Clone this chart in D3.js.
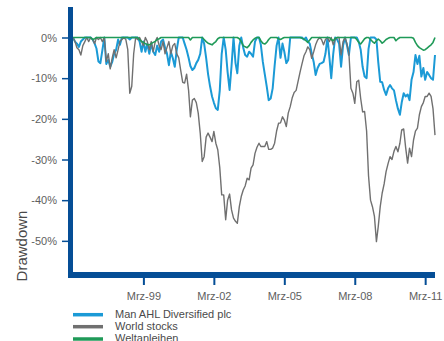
<!DOCTYPE html>
<html lang="de">
<head>
    <meta charset="UTF-8">
    <title>Drawdown</title>
    <script src="https://cdn.jsdelivr.net/npm/d3@7"></script>
    <style>
        body, html {
            margin: 0;
            padding: 0;
            background: #fff;
            overflow: hidden;
        }
        svg {
            display: block;
            font-family: "Liberation Sans", Arial, sans-serif;
        }
    </style>
</head>
<body>
    <svg id="mainsvg"></svg>
    <script>
        // monatliche Werte, Mrz 1996 bis Aug 2011 (Drawdown in %)
        const startMonth = new Date(1996, 2, 1);
        const endMonth = new Date(2011, 7, 1);

        const manAHL = [
            0, -1, -1.5, -2.3, -1, -0.5, 0, 0, 0, 0,
            -0.5, -1.5, -2.7, -5.9, -6.3, -3.1, 0, -6.5, -5.5, -7.2,
            -6, -4, -3, -0.5, -1.8, 0, 0, 0, 0, -0.5,
            0, 0, 0, 0, -1, -3.5, -1, -3.5, -1.5, -4,
            -1.5, -3.5, -4.3, -2, -3.5, -1, -0.5, -2.5, -3.9, -6.8,
            -3.5, -5.1, -7.2, -3, 0, 0, 0, -1.5, -3, -5,
            -7, -8, -7.5, -6.3, -5.5, -4, 0, -1.5, -5, -9,
            -12, -14.5, -16, -17.4, -17.8, -13, -4, 0, -3, -8.5,
            -12.9, -7, 0, -6.3, -8.8, -2, 0, -2.5, -4.3, -4.7,
            -3.5, -4, -4.7, -1, 0, 0, -1.8, -6, -9, -12.1,
            -15.4, -15, -12.5, -7, -2, 0, -5, -1.5, -3.5, -6.3,
            -5.5, 0, 0, 0, 0, 0, 0, 0, -0.5, 0,
            -1, -1.5, -3.9, -6, -9.2, -7.5, -6.5, -6.3, -6, -4,
            0, -5, -10, -4, 0, -0.5, -1.5, -7.2, -2, 0,
            -2, -4.3, 0, 0, 0, 0, -1, -3, -7.2, -9.6,
            -10, -2.8, 0, 0, 0, -0.5, -6, -10.9, -11, -12.9,
            -14.1, -12.5, -11.7, -12.5, -13, -15.4, -17.5, -19, -16, -13.7,
            -14.5, -14, -15.4, -10.4, -8.5, -4.3, -6.5, -4.5, -9.6, -7.5,
            -10.4, -8.5, -9.2, -10, -10.4, -4.3
        ];

        const worldStocks = [
            0, -1, -2.5, -3, -4.3, -2, -1, 0, -1, 0,
            -0.5, -1.5, 0, -0.5, 0, -1, 0, -5.9, -4, -7.7,
            -5, -3, -5, -3, -1, -0.5, 0, -0.5, -3, -13.7,
            -12, -4, 0, -0.5, 0, -1, -2, 0, -1, -3,
            -1, -3.5, -1, 0, -2, -3, -1, -4, -2.5, -1,
            -4, -2, -1.5, -4, -5, -8, -11, -11.2, -9, -13,
            -19.5, -15.4, -15, -16, -18.6, -23.5, -30.5, -29.3, -24.5, -23.5,
            -24.5, -25.6, -23.1, -26, -27.6, -32, -38.7, -38.7, -44.8, -40,
            -38.5, -42.4, -44.4, -45.2, -45.7, -41.6, -39.1, -37.5, -36.5, -34.6,
            -35, -32.1, -31.3, -28.5, -27, -26, -26.8, -26.8, -26.8, -25.6,
            -27.5, -27.5, -27.2, -26, -23, -21.1, -21, -19.5, -20.3, -21.9,
            -18.6, -17, -14.9, -13.5, -13, -10.8, -8.5, -6.5, -4.5, -3.5,
            -2.3, -3, -5.1, -3.5, -1.8, -0.6, 0, -0.5, -1.8, -0.5,
            0, -1, 0, -1.8, -0.5, 0, 0, -4.3, -1, 0,
            -1.5, -3.9, -12.5, -13.7, -16.2, -10.9, -10.5, -15, -18.3, -18.2,
            -23, -34, -40, -41.6, -44, -50.2, -46.5, -41.6, -38.3, -36,
            -33, -31, -29.3, -30, -28, -26.8, -28.1, -26, -22.7, -22.5,
            -27, -30.9, -27.2, -29.3, -25.2, -23, -22.3, -19, -17, -16,
            -14.5, -14.5, -13.7, -14.5, -17.5, -24
        ];

        const weltanleihen = [
            0, 0, 0, 0, 0, 0, 0, 0, 0, 0,
            -0.5, -0.3, 0, 0, 0, 0, 0, 0, 0, 0,
            0, 0, 0, 0, 0, 0, 0, 0, 0, 0,
            0, 0, 0, 0, -0.5, -1, -1.2, -1.5, -1.8, -1.8,
            -1.5, -1.2, -1, -0.5, -0.3, 0, 0, 0, 0, 0,
            0, 0, 0, 0, 0, 0, 0, 0, 0, 0,
            -0.6, 0, 0, 0, 0, 0, 0, -0.5, -1, -1.4,
            -1.6, -1.8, -1.4, -1, -0.3, 0, 0, 0, 0, 0,
            0, 0, 0, 0, 0, -0.3, -1, -2, -2.3, -2.5,
            -2, -1.2, -0.6, -0.2, 0, 0, -0.8, -1.4, -1.6, -1.2,
            -0.5, 0, 0, 0, 0, -0.3, -0.5, -0.2, 0, 0,
            0, 0, 0, 0, 0, 0, 0, -0.2, -0.4, -0.8,
            -1.2, -0.6, 0, 0, 0, 0, 0, 0, 0, 0,
            0, 0, -0.5, -0.8, -0.2, 0, 0, 0, 0, 0,
            0, 0, 0, 0, 0, -0.5, -1.2, -1.6, -1, -0.3,
            0, 0, -0.5, -1, -1.4, -0.8, -0.4, -0.8, -1.4, -1,
            -0.5, -0.2, 0, 0, 0, -0.8, -0.3, 0, 0, 0,
            0, 0, 0, 0, -0.2, -1.2, -2, -2.5, -2.8, -3.1,
            -3, -2.6, -2.2, -1.8, -1.2, 0
        ];

        const seriesNames = ["Man AHL Diversified plc", "World stocks", "Weltanleihen"];
        const seriesColors = ["#1b9ad6", "#707070", "#1f9a58"];

        const tickDates = [new Date(1999, 2, 1), new Date(2002, 2, 1), new Date(2005, 2, 1),
                           new Date(2008, 2, 1), new Date(2011, 2, 1)];
        const tickLabels = ["Mrz-99", "Mrz-02", "Mrz-05", "Mrz-08", "Mrz-11"];
        const yTicks = [0, -10, -20, -30, -40, -50];

        const width = 444, height = 341;
        const axisBlue = "#054e96";
        const textGrey = "#5e5e5e";

        const svg = d3.select("#mainsvg")
            .attr("width", width)
            .attr("height", height);

        const months = d3.timeMonth.range(startMonth, d3.timeMonth.offset(endMonth, 1));

        const x = d3.scaleTime()
            .domain([startMonth, endMonth])
            .range([73, 435]);

        const y = d3.scaleLinear()
            .domain([-58.4, 7.5])
            .range([275, 7]);

        // Linien
        const line = d3.line()
            .x((d, i) => x(months[i]))
            .y(d => y(d));

        const lineWidths = [2, 1.4, 1.6];
        [manAHL, worldStocks, weltanleihen].forEach((s, k) => {
            svg.append("path")
                .datum(s)
                .attr("fill", "none")
                .attr("stroke", seriesColors[k])
                .attr("stroke-width", lineWidths[k])
                .attr("stroke-linejoin", "round")
                .attr("d", line);
        });

        // y-Achse
        const yAxis = svg.append("g")
            .attr("transform", "translate(68,0)")
            .call(d3.axisLeft(y)
                .tickValues(yTicks)
                .tickSize(6)
                .tickPadding(5)
                .tickFormat(d => d + "%"));
        yAxis.select(".domain").remove();
        yAxis.selectAll(".tick line").attr("stroke", axisBlue).attr("stroke-width", 1.5);
        yAxis.selectAll(".tick text")
            .attr("fill", textGrey)
            .style("font-size", "11px")
            .style("font-family", "'Liberation Sans', Arial, sans-serif");

        // x-Achse
        const xAxis = svg.append("g")
            .attr("transform", "translate(0,278)")
            .call(d3.axisBottom(x)
                .tickValues(tickDates)
                .tickSize(7)
                .tickPadding(7)
                .tickFormat((d, i) => tickLabels[i]));
        xAxis.select(".domain").remove();
        xAxis.selectAll(".tick line").attr("stroke", axisBlue).attr("stroke-width", 2);
        xAxis.selectAll(".tick text")
            .attr("fill", textGrey)
            .style("font-size", "11px")
            .style("font-family", "'Liberation Sans', Arial, sans-serif");

        // dicke Achsenlinien
        svg.append("line")
            .attr("x1", 70.5).attr("x2", 70.5)
            .attr("y1", 7).attr("y2", 278)
            .attr("stroke", axisBlue).attr("stroke-width", 5);
        svg.append("line")
            .attr("x1", 68).attr("x2", 435)
            .attr("y1", 275).attr("y2", 275)
            .attr("stroke", axisBlue).attr("stroke-width", 6);

        // Achsentitel
        svg.append("text")
            .attr("transform", "translate(27,246) rotate(-90)")
            .attr("text-anchor", "middle")
            .attr("fill", "#4a4a4a")
            .style("font-size", "15px")
            .text("Drawdown");

        // Legende (letzte Zeile wird am unteren Rand abgeschnitten)
        const legend = svg.append("g");
        const legendY = [314.7, 326.7, 339];
        seriesNames.forEach((name, k) => {
            legend.append("line")
                .attr("x1", 73).attr("x2", 103)
                .attr("y1", legendY[k]).attr("y2", legendY[k])
                .attr("stroke", seriesColors[k])
                .attr("stroke-width", 3.5);
            legend.append("text")
                .attr("x", 115)
                .attr("y", legendY[k] + 3)
                .attr("fill", "#4a4a4a")
                .style("font-size", "11px")
                .text(name);
        });
    </script>
</body>
</html>
